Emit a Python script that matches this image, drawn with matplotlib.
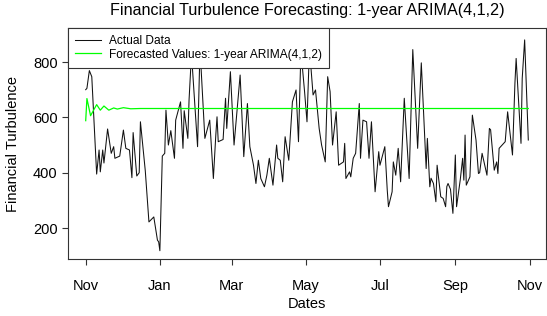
"""Financial turbulence vs. 1-year ARIMA(4,1,2) forecast, R base-graphics look."""

import numpy as np
import pandas as pd
import matplotlib
matplotlib.use("Agg")
import matplotlib.pyplot as plt
import matplotlib.dates as mdates

plt.rcParams["font.family"] = ["Liberation Sans", "DejaVu Sans"]

# %% Data
START = pd.Timestamp("2013-11-01")

# day offsets from START and the observed turbulence at those days
actual_days = [
    0, 1, 3, 5, 9, 11, 12, 14, 15, 18, 21, 23, 24, 28, 31, 33, 36, 38, 39, 42,
    44, 45, 49, 52, 56, 59, 60, 61, 63, 65, 66, 68, 70, 73, 74, 78, 80, 81, 84,
    85, 87, 92, 94, 98, 102, 105, 107, 108, 109, 113, 115, 116, 119, 122, 127,
    130, 133, 135, 138, 140, 142, 144, 147, 149, 151, 154, 157, 158, 160, 162,
    164, 167, 170, 173, 175, 177, 180, 182, 184, 187, 189, 192, 194, 197, 199,
    201, 203, 206, 208, 212, 213, 214, 217, 218, 220, 222, 225, 226, 228, 231,
    233, 235, 238, 241, 242, 246, 248, 249, 252, 253, 255, 257, 259, 262, 264,
    266, 269, 273, 276, 280, 281, 283, 284, 286, 288, 289, 292, 294, 296, 297,
    298, 300, 302, 304, 305, 308, 310, 311, 312, 313, 316, 318, 321, 323, 324,
    326, 330, 332, 333, 336, 338, 339, 340, 345, 347, 351, 353, 354, 358, 359,
    361, 364,
]
actual_vals = [
    700, 705, 769, 747, 395, 482, 403, 482, 435, 558, 470, 494, 452, 460, 554,
    488, 482, 382, 545, 388, 400, 584, 407, 222, 240, 156, 150, 118, 460, 470,
    626, 500, 552, 452, 590, 656, 488, 624, 524, 663, 830, 494, 850, 524, 590,
    379, 536, 602, 512, 520, 669, 560, 765, 500, 753, 458, 650, 494, 427, 361,
    445, 379, 349, 391, 452, 355, 500, 452, 445, 367, 530, 445, 656, 699, 512,
    840, 693, 584, 850, 681, 699, 560, 500, 439, 747, 693, 500, 620, 427, 439,
    506, 379, 403, 385, 452, 470, 650, 452, 590, 584, 452, 584, 331, 476, 427,
    494, 337, 277, 331, 439, 391, 488, 367, 669, 524, 379, 845, 488, 797, 415,
    524, 349, 380, 361, 295, 427, 313, 307, 277, 350, 361, 340, 253, 464, 277,
    373, 452, 373, 536, 355, 385, 608, 518, 397, 400, 470, 391, 560, 555, 409,
    439, 397, 488, 512, 620, 464, 723, 813, 506, 741, 880, 518,
]

forecast_days = [0, 1, 4, 9, 12, 15, 19, 23, 26, 31, 37, 45, 364]
forecast_vals = [588, 668, 606, 646, 626, 641, 626, 634, 630, 635, 631, 632, 632]

Y_TICKS = [200, 400, 600, 800]

actual_dates = START + pd.to_timedelta(actual_days, unit="D")
forecast_dates = START + pd.to_timedelta(forecast_days, unit="D")

# %% Plot
fig = plt.figure(figsize=(5.47, 3.16), dpi=100)
ax = fig.add_axes([68 / 547, 57 / 316, 478 / 547, 231 / 316])

ax.plot(actual_dates, actual_vals, color="#111111", lw=0.75, label="Actual Data")
ax.plot(forecast_dates, forecast_vals, color="#00ff00", lw=0.9,
        label="Forecasted Values: 1-year ARIMA(4,1,2)")

span = actual_days[-1] - actual_days[0]
ax.set_xlim(START - pd.Timedelta(days=0.04 * span),
            START + pd.Timedelta(days=actual_days[-1] + 0.04 * span))
ax.set_ylim(88, 923)

ax.xaxis.set_major_locator(mdates.MonthLocator(bymonth=[1, 3, 5, 7, 9, 11]))
ax.xaxis.set_major_formatter(mdates.DateFormatter("%b"))
ax.set_yticks(Y_TICKS)

ax.tick_params(direction="out", length=4.5, width=0.8, labelsize=10.5,
               color="#333333")
ax.tick_params(axis="x", pad=10)
ax.tick_params(axis="y", pad=3)
for sp in ax.spines.values():
    sp.set_linewidth(0.8)
    sp.set_color("#333333")

ax.set_xlabel("Dates", fontsize=10.5, labelpad=3)
ax.set_ylabel("Financial Turbulence", fontsize=10.5, labelpad=9)
fig.text(0.561, 1 - 11 / 316, "Financial Turbulence Forecasting: 1-year ARIMA(4,1,2)",
         ha="center", va="center", fontsize=11.6)

leg = ax.legend(loc="upper left", bbox_to_anchor=(0, 1), borderaxespad=0,
                fontsize=8.6, fancybox=False, framealpha=1, edgecolor="#333333",
                handlelength=2.2, handletextpad=0.6, labelspacing=0.12,
                borderpad=0.6)
leg.get_frame().set_linewidth(0.8)

fig.savefig("out.png", dpi=100)
